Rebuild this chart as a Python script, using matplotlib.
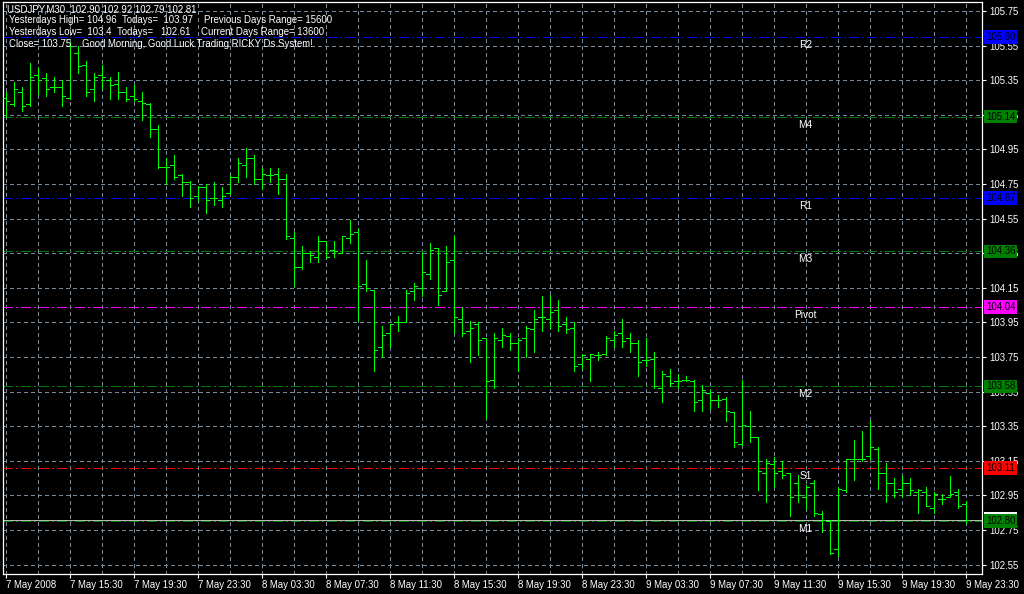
import matplotlib
matplotlib.use("Agg")
import matplotlib.pyplot as plt
from matplotlib.transforms import blended_transform_factory

# USDJPY M30 bars, 7 May 2008 11:30 .. 9 May 2008 23:30
opens = [105.25, 105.21, 105.28, 105.21, 105.38, 105.36, 105.31, 105.31, 105.25, 105.51,
         105.44, 105.30, 105.38, 105.35, 105.33, 105.28, 105.26, 105.23, 105.21, 105.07,
         104.85, 104.86, 104.80, 104.76, 104.68, 104.73, 104.67, 104.66, 104.70, 104.79,
         104.86, 104.90, 104.78, 104.80, 104.81, 104.78, 104.44, 104.27, 104.35, 104.33,
         104.42, 104.37, 104.35, 104.44, 104.47, 104.17, 104.14, 103.81, 103.89, 103.95,
         103.95, 104.13, 104.15, 104.23, 104.38, 104.13, 104.31, 103.97, 103.90, 103.94,
         103.86, 103.62, 103.85, 103.87, 103.83, 103.86, 103.91, 103.98, 103.97, 104.02,
         103.94, 103.92, 103.71, 103.74, 103.76, 103.77, 103.85, 103.89, 103.86, 103.83,
         103.73, 103.74, 103.57, 103.64, 103.61, 103.62, 103.61, 103.50, 103.54, 103.50,
         103.51, 103.43, 103.25, 103.35, 103.29, 103.08, 103.13, 103.09, 103.08, 103.02,
         102.94, 103.02, 102.84, 102.80, 102.64, 102.98, 103.16, 103.16, 103.18, 103.22,
         103.08, 103.02, 102.99, 103.02, 102.97, 102.97, 102.88, 102.93, 102.94, 102.97,
         102.90]
highs = [105.28, 105.34, 105.31, 105.45, 105.42, 105.39, 105.37, 105.35, 105.57, 105.55,
         105.46, 105.39, 105.44, 105.37, 105.40, 105.31, 105.32, 105.28, 105.22, 105.09,
         104.90, 104.92, 104.81, 104.77, 104.74, 104.75, 104.76, 104.73, 104.80, 104.90,
         104.96, 104.92, 104.84, 104.84, 104.84, 104.81, 104.47, 104.39, 104.36, 104.45,
         104.42, 104.42, 104.45, 104.54, 104.49, 104.31, 104.14, 103.93, 103.94, 103.99,
         104.14, 104.18, 104.35, 104.41, 104.38, 104.39, 104.45, 104.04, 103.96, 103.95,
         103.86, 103.89, 103.92, 103.89, 103.86, 103.93, 104.02, 104.10, 104.11, 104.08,
         103.98, 103.95, 103.77, 103.77, 103.78, 103.87, 103.90, 103.97, 103.89, 103.85,
         103.86, 103.78, 103.67, 103.68, 103.65, 103.64, 103.62, 103.59, 103.56, 103.53,
         103.52, 103.43, 103.62, 103.44, 103.29, 103.16, 103.17, 103.15, 103.08, 103.07,
         103.01, 103.04, 102.86, 102.81, 103.00, 103.16, 103.27, 103.32, 103.38, 103.23,
         103.14, 103.05, 103.06, 103.05, 102.99, 103.00, 102.97, 102.96, 103.06, 102.99,
         102.92]
lows = [105.14, 105.20, 105.17, 105.20, 105.27, 105.26, 105.28, 105.20, 105.24, 105.39,
        105.26, 105.23, 105.30, 105.24, 105.24, 105.23, 105.23, 105.12, 105.02, 104.84,
        104.75, 104.78, 104.68, 104.62, 104.65, 104.58, 104.63, 104.62, 104.69, 104.76,
        104.79, 104.75, 104.72, 104.76, 104.69, 104.43, 104.16, 104.26, 104.30, 104.30,
        104.32, 104.33, 104.35, 104.41, 103.96, 104.13, 103.67, 103.75, 103.81, 103.90,
        103.95, 104.08, 104.10, 104.20, 104.05, 104.13, 103.89, 103.87, 103.72, 103.76,
        103.40, 103.57, 103.81, 103.79, 103.67, 103.75, 103.78, 103.90, 103.92, 103.90,
        103.89, 103.67, 103.68, 103.61, 103.73, 103.76, 103.81, 103.81, 103.78, 103.64,
        103.70, 103.57, 103.49, 103.58, 103.57, 103.61, 103.44, 103.44, 103.45, 103.46,
        103.38, 103.23, 103.24, 103.26, 102.98, 102.91, 103.00, 103.05, 102.83, 102.91,
        102.87, 102.83, 102.74, 102.61, 102.60, 102.97, 103.04, 103.15, 103.16, 102.99,
        102.91, 102.94, 102.94, 102.95, 102.85, 102.89, 102.85, 102.90, 102.94, 102.88,
        102.79]
closes = [105.23, 105.30, 105.20, 105.37, 105.35, 105.30, 105.31, 105.26, 105.55, 105.43,
          105.28, 105.37, 105.37, 105.32, 105.28, 105.24, 105.24, 105.22, 105.07, 104.85,
          104.85, 104.79, 104.76, 104.67, 104.73, 104.66, 104.67, 104.68, 104.79, 104.87,
          104.90, 104.78, 104.81, 104.80, 104.78, 104.45, 104.27, 104.35, 104.34, 104.42,
          104.33, 104.36, 104.45, 104.46, 104.16, 104.15, 103.79, 103.88, 103.94, 103.95,
          104.12, 104.16, 104.24, 104.37, 104.11, 104.30, 103.98, 103.89, 103.92, 103.85,
          103.61, 103.86, 103.88, 103.83, 103.85, 103.92, 103.97, 103.98, 104.01, 103.93,
          103.91, 103.70, 103.76, 103.77, 103.76, 103.86, 103.88, 103.84, 103.83, 103.72,
          103.73, 103.58, 103.65, 103.60, 103.61, 103.62, 103.49, 103.56, 103.50, 103.50,
          103.44, 103.26, 103.36, 103.29, 103.09, 103.14, 103.08, 103.07, 102.94, 102.95,
          103.00, 102.85, 102.81, 102.62, 102.99, 103.16, 103.16, 103.16, 103.23, 103.08,
          103.02, 102.97, 103.02, 102.98, 102.98, 102.89, 102.96, 102.93, 102.96, 102.89,
          102.81]

# pivot levels
level_names = ["R2", "M4", "R1", "M3", "Pivot", "M2", "S1", "M1"]
level_values = [105.60, 105.14, 104.67, 104.36, 104.04, 103.58, 103.11, 102.80]
level_colors = ["#0000ff", "#008000", "#0000ff", "#008000", "#ff00ff", "#008000", "#ff0000", "#008000"]
bid = 102.81

price_ticks = [105.75, 105.55, 105.35, 105.15, 104.95, 104.75, 104.55, 104.35, 104.15,
               103.95, 103.75, 103.55, 103.35, 103.15, 102.95, 102.75, 102.55]
time_labels = ["7 May 2008", "7 May 15:30", "7 May 19:30", "7 May 23:30", "8 May 03:30",
               "8 May 07:30", "8 May 11:30", "8 May 15:30", "8 May 19:30", "8 May 23:30",
               "9 May 03:30", "9 May 07:30", "9 May 11:30", "9 May 15:30", "9 May 19:30",
               "9 May 23:30"]

plt.rcParams['font.family'] = ["Liberation Sans", "DejaVu Sans"]
FS = 6.9

W, H = 1024, 594
fig = plt.figure(figsize=(W / 100, H / 100), dpi=100, facecolor="black")
ax = fig.add_axes([3 / W, 20 / H, 979 / W, 572 / H], facecolor="black")

n = len(opens)
idx = list(range(n))
# 8 px per bar, bars on pixel centres
ax.set_xlim(-0.3125, 122.0625)
ax.set_ylim(102.496, 105.802)

LW = 0.7  # one pixel
gridc = "#778899"
for p in price_ticks:
    ax.axhline(p, color=gridc, lw=LW, ls=(0, (4, 4)), zorder=1, antialiased=False)
for i in range(0, n, 4):
    ax.axvline(i, color=gridc, lw=LW, ls=(0, (4, 4)), zorder=1, antialiased=False)

# pivot lines
for name, v, c in zip(level_names, level_values, level_colors):
    ax.axhline(v, color=c, lw=LW, ls=(0, (10, 4, 2, 4)), zorder=2, antialiased=False)
    ax.text(100, v - 3 / 173, name, color="white", ha="center", va="top", fontsize=FS + 0.4, zorder=4)
ax.axhline(bid, color="#b8b8b8", lw=LW, zorder=2, antialiased=False)

# bars
barc = "#00ff00"
kw = dict(color=barc, lw=LW, zorder=3, antialiased=False)
ax.vlines(idx, lows, highs, **kw)
ax.hlines(opens, [i - 0.4 for i in idx], idx, **kw)
ax.hlines(closes, idx, [i + 0.4 for i in idx], **kw)

# axes styling
for s in ax.spines.values():
    s.set_color("white")
    s.set_linewidth(0.9)
ax.yaxis.tick_right()
ax.set_yticks(price_ticks)
ax.set_yticklabels(["%.2f" % p for p in price_ticks])
ax.set_xticks(list(range(0, n, 8)))
ax.set_xticklabels(time_labels)
for lbl in ax.get_xticklabels():
    lbl.set_ha("left")
ax.tick_params(colors="white", labelsize=FS, length=3, width=0.8)
ax.tick_params(axis="x", pad=1.5)
ax.tick_params(axis="y", pad=2)

# price labels at right edge
tr = blended_transform_factory(ax.transAxes, ax.transData)
x_lab = 1 + 4 / 979
ax.text(x_lab, bid + 0.005, "%.2f" % bid, transform=tr, color="white", fontsize=FS,
        va="center", ha="left", clip_on=False, zorder=5,
        bbox=dict(boxstyle="square,pad=0.2", fc="white", ec="none"))
for v, c in zip(level_values, level_colors):
    ax.text(x_lab, v, "%.2f" % v, transform=tr, color="black", fontsize=FS,
            va="center", ha="left", clip_on=False, zorder=6,
            bbox=dict(boxstyle="square,pad=0.2", fc=c, ec="none"))

# info text top-left
def info(x, y, s):
    fig.text(x / W, 1 - y / H, s, color="white", fontsize=FS, va="center", ha="left")

info(7, 9, "USDJPY,M30  102.90 102.92 102.79 102.81")
info(9, 20, "Yesterdays High= 104.96")
info(122, 20, "Todays=  103.97")
info(204, 20, "Previous Days Range= 15600")
info(9, 32, "Yesterdays Low=  103.4")
info(117, 32, "Todays=   102.61")
info(201, 32, "Current Days Range= 13600")
info(9, 44, "Close= 103.75")
info(82, 44, "Good Morning, Good Luck Trading RICKY Ds System!")

fig.savefig("out.png", dpi=100, facecolor="black")
